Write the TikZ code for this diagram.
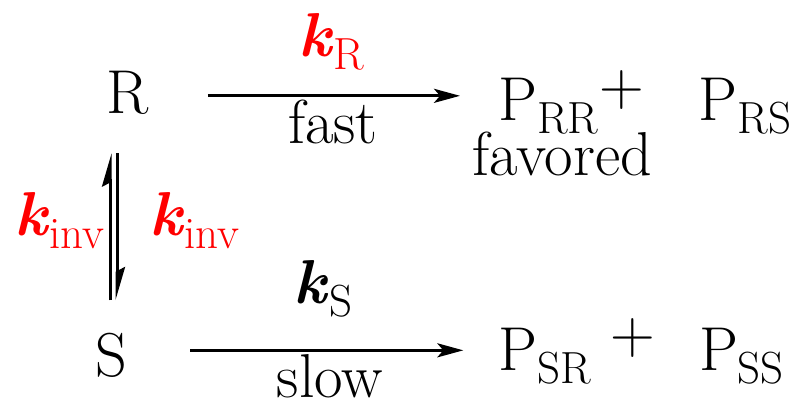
\documentclass[tikz,border=0pt]{standalone}
\usepackage{tikz}
\usetikzlibrary{arrows.meta,calc}
\definecolor{ratered}{RGB}{255,0,0}
\newcommand{\lowidx}[1]{\raisebox{-6.5pt}{\fontsize{22.5}{24}\selectfont #1}}
\newcommand{\kk}{\textbf{\textit{k}}}
\tikzset{
  base/.style={font=\fontsize{31}{34}\selectfont, inner sep=0pt, anchor=base},
  rate/.style={base, text=ratered},
  arr/.style={-{Stealth[length=13pt,width=7pt,inset=3pt]}, line width=1.5pt},
  harp/.style={-{Stealth[left,length=14pt,width=8pt,inset=2pt]}, line width=1.5pt},
}

\begin{document}
\begin{tikzpicture}[x=0.5pt,y=-0.5pt]
  \useasboundingbox (0,0) rectangle (797,401);
  % species
  \node[base] (R) at (127.5,113) {R};
  \node[base] (S) at (111,376) {S};
  \node[base] (PRR) at (548.5,120) {P\lowidx{RR}};
  \node[base] (plus1) at (622,105.5) {+};
  \node[base] (PRS) at (745,120) {P\lowidx{RS}};
  \node[base] (favored) at (562,175) {favored};
  \node[base] (PSR) at (545,370) {P\lowidx{SR}};
  \node[base] (plus2) at (632.5,353) {+};
  \node[base] (PSS) at (741.5,370) {P\lowidx{SS}};
  % rate labels
  \node[rate] (kR) at (331,57) {\kk\lowidx{R}};
  \node[base] (fast) at (333,143) {fast};
  \node[rate] (kinvL) at (59.5,235) {\kk\lowidx{inv}};
  \node[rate] (kinvR) at (194.5,235) {\kk\lowidx{inv}};
  \node[base] (kS) at (323,303) {\kk\lowidx{S}};
  \node[base] (slow) at (330,397) {slow};
  % arrows
  \draw[arr] ($(R.east)+(59,3.5)$) -- ($(R.east -| PRR.west)+(-38,3.5)$);
  \draw[arr] ($(S.east)+(63,-4.5)$) -- ($(S.east -| PSR.west)+(-35,-4.5)$);
  \draw[harp] ($(S.north)+(-1,-32)$) -- ($(S.north |- R.south)+(-1,39)$);
  \draw[harp] ($(S.north |- R.south)+(6,39)$) -- ($(S.north)+(6,-32)$);
\end{tikzpicture}
\end{document}
